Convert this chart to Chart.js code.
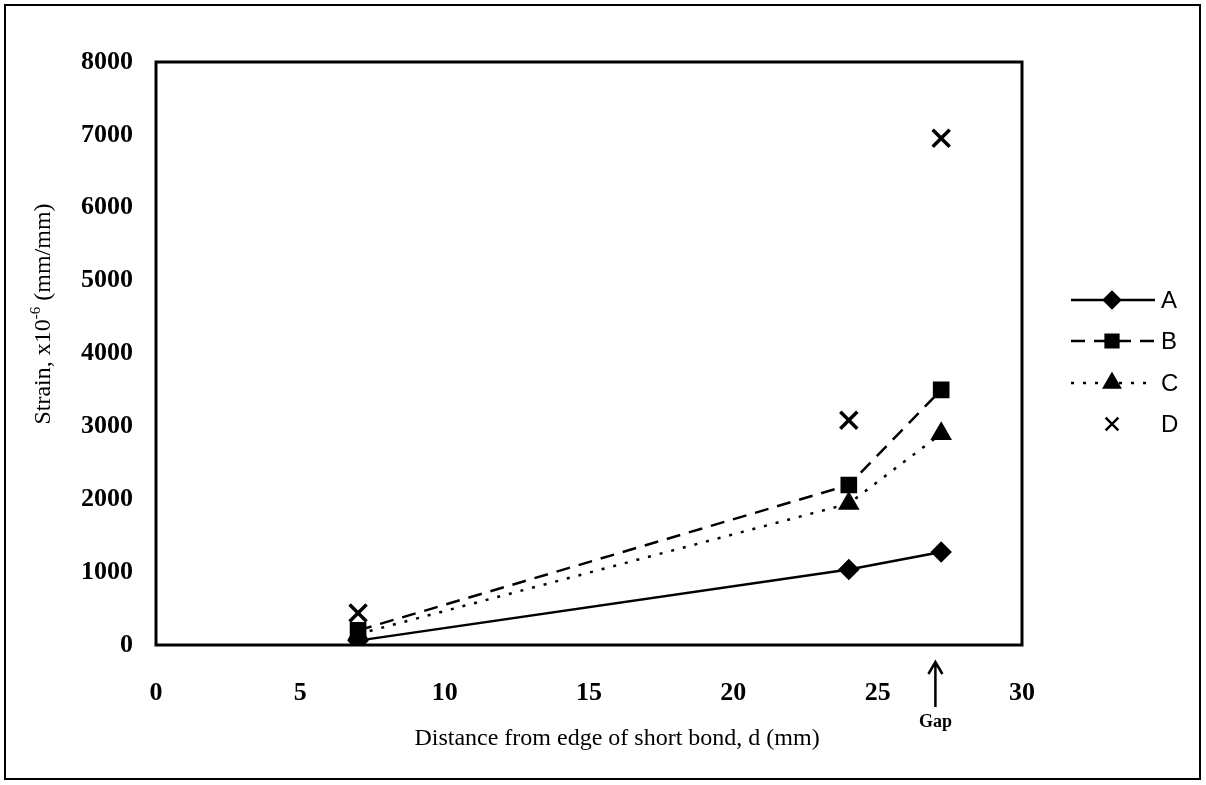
<!DOCTYPE html>
<html>
<head>
<meta charset="utf-8">
<script src="https://cdn.jsdelivr.net/npm/chart.js@4.4.1/dist/chart.umd.min.js"></script>
<style>
  html, body { margin: 0; padding: 0; background: #fff; }
  #wrap { width: 1206px; height: 785px; position: relative; }
</style>
</head>
<body>
<div id="wrap"><canvas id="strainChart" width="1206" height="785"></canvas></div>
<script>
// distances along the bond (mm) and strain readings (x10^-6 mm/mm)
const distances = [7, 24, 27.2];
const strainA = [60, 1035, 1275];
const strainB = [200, 2195, 3500];
const strainC = [150, 1940, 2900];
const strainD = [440, 3085, 6955];
const seriesNames = ['A', 'B', 'C', 'D'];
const xTicks = [0, 5, 10, 15, 20, 25, 30];
const yTicks = [0, 1000, 2000, 3000, 4000, 5000, 6000, 7000, 8000];
const gapAt = 27;

const toPoints = vals => vals.map((v, i) => ({ x: distances[i], y: v }));

const serif = '"Liberation Serif", "Times New Roman", serif';
const sans = '"Liberation Sans", Arial, sans-serif';

const datasets = [
    { label: seriesNames[0], data: toPoints(strainA), borderColor: '#000', backgroundColor: '#000',
      borderWidth: 2.5, pointStyle: 'rectRot', pointRadius: 9, showLine: true },
    { label: seriesNames[1], data: toPoints(strainB), borderColor: '#000', backgroundColor: '#000',
      borderWidth: 2.5, borderDash: [14, 9], pointStyle: 'rect', pointRadius: 10, showLine: true },
    { label: seriesNames[2], data: toPoints(strainC), borderColor: '#000', backgroundColor: '#000',
      borderWidth: 2.5, borderDash: [3, 9], pointStyle: 'triangle', pointRadius: 10, showLine: true },
    { label: seriesNames[3], data: toPoints(strainD), borderColor: '#000', backgroundColor: '#000',
      borderWidth: 3.5, pointStyle: 'cross', pointRotation: 45, pointRadius: 12, showLine: false }
];

// frame, axis titles, custom legend and the "Gap" arrow
const extras = {
    id: 'extras',
    afterDraw(chart) {
        const ctx = chart.ctx;
        const area = chart.chartArea;
        ctx.save();
        // outer frame
        ctx.strokeStyle = '#000';
        ctx.lineWidth = 2;
        ctx.setLineDash([]);
        ctx.strokeRect(5, 5, 1195, 774);
        // plot border
        ctx.lineWidth = 3;
        ctx.strokeRect(area.left, area.top, area.right - area.left, area.bottom - area.top);

        ctx.fillStyle = '#000';
        ctx.textBaseline = 'middle';

        // x title
        ctx.font = '24px ' + serif;
        ctx.textAlign = 'center';
        ctx.fillText('Distance from edge of short bond, d (mm)', 617, 739);

        // y title with a real superscript
        ctx.save();
        ctx.translate(44, 314);
        ctx.rotate(-Math.PI / 2);
        const big = '24px ' + serif, small = '15px ' + serif;
        const p1 = 'Strain, x10', p2 = '-6', p3 = ' (mm/mm)';
        ctx.font = big;
        const w1 = ctx.measureText(p1).width, w3 = ctx.measureText(p3).width;
        ctx.font = small;
        const w2 = ctx.measureText(p2).width;
        let sx = -(w1 + w2 + w3) / 2;
        ctx.textAlign = 'left';
        ctx.font = big;
        ctx.fillText(p1, sx, 0);
        ctx.font = small;
        ctx.fillText(p2, sx + w1, -8);
        ctx.font = big;
        ctx.fillText(p3, sx + w1 + w2, 0);
        ctx.restore();

        // legend
        const legendY = [300, 341, 383, 424];
        chart.data.datasets.forEach((ds, i) => {
            const y = legendY[i];
            if (ds.showLine) {
                ctx.strokeStyle = '#000';
                ctx.lineWidth = 2.5;
                ctx.setLineDash(ds.borderDash || []);
                ctx.beginPath();
                ctx.moveTo(1071, y);
                ctx.lineTo(1155, y);
                ctx.stroke();
            }
            ctx.setLineDash([]);
            const r = ds.pointStyle === 'cross' ? 9 : ds.pointRadius - 1;
            Chart.helpers.drawPoint(ctx, {
                pointStyle: ds.pointStyle, radius: r, rotation: ds.pointRotation || 0,
                borderWidth: ds.borderWidth
            }, 1112, y);
            ctx.fillStyle = '#000';
            ctx.font = '24px ' + sans;
            ctx.textAlign = 'left';
            ctx.fillText(ds.label, 1161, y + 1);
        });

        // Gap arrow
        const gx = chart.scales.x.getPixelForValue(gapAt);
        ctx.strokeStyle = '#000';
        ctx.lineWidth = 2.5;
        ctx.beginPath();
        ctx.moveTo(gx, 707);
        ctx.lineTo(gx, 663);
        ctx.moveTo(gx - 7, 674);
        ctx.lineTo(gx, 662);
        ctx.lineTo(gx + 7, 674);
        ctx.stroke();
        ctx.font = 'bold 18px ' + serif;
        ctx.textAlign = 'center';
        ctx.fillText('Gap', gx, 722);
        ctx.restore();
    }
};

new Chart(document.getElementById('strainChart'), {
    type: 'scatter',
    data: { datasets: datasets },
    options: {
        responsive: false,
        animation: false,
        layout: { padding: { left: 0, right: 184, top: 62, bottom: 0 } },
        plugins: { legend: { display: false }, tooltip: { enabled: false } },
        scales: {
            x: {
                type: 'linear',
                min: 0, max: 30,
                afterBuildTicks: scale => { scale.ticks = xTicks.map(v => ({ value: v })); },
                afterFit: scale => { scale.height = 140; },
                grid: { display: false, drawTicks: false },
                border: { display: false },
                ticks: { color: '#000', padding: 33, font: { family: serif, size: 26, weight: 'bold' },
                         callback: v => String(v) },
                title: { display: false }
            },
            y: {
                type: 'linear',
                min: 0, max: 8000,
                afterBuildTicks: scale => { scale.ticks = yTicks.map(v => ({ value: v })); },
                afterFit: scale => { scale.width = 156; },
                grid: { display: false, drawTicks: false },
                border: { display: false },
                ticks: { color: '#000', padding: 23, font: { family: serif, size: 26, weight: 'bold' },
                         callback: v => String(v) },
                title: { display: false }
            }
        }
    },
    plugins: [extras]
});
</script>
</body>
</html>
